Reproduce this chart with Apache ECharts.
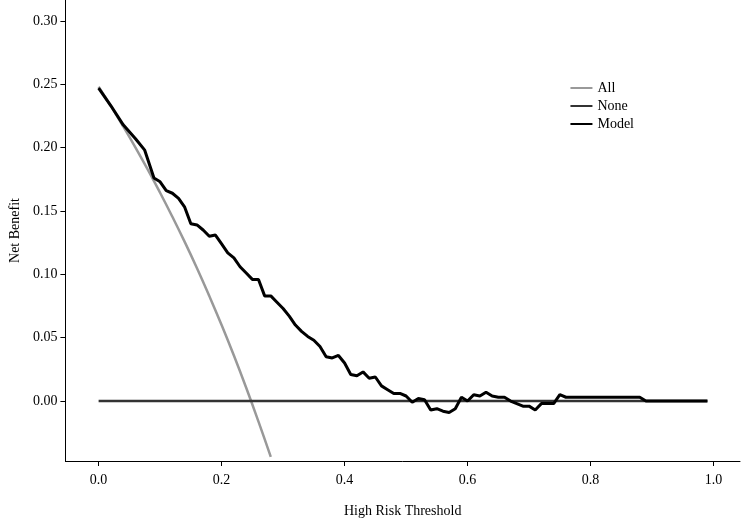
<!DOCTYPE html><html><head><meta charset="utf-8"><script src="https://cdn.jsdelivr.net/npm/echarts@6/dist/echarts.min.js"></script></head><body style="margin:0"><div id="c" style="width:744px;height:523px"></div><script>
const thresholdsAll=[0,0.02,0.04,0.06,0.08,0.10,0.12,0.14,0.16,0.18,0.20,0.22,0.24,0.26,0.28];
const allValues=[0.248,0.2327,0.2167,0.200,0.1826,0.1644,0.1454,0.1256,0.1048,0.0829,0.060,0.0359,0.0105,-0.0162,-0.044];
const thresholdsModel=[0,0.02,0.04,0.06,0.075,0.09,0.10,0.11,0.12,0.13,0.14,0.15,0.16,0.17,0.18,0.19,0.20,0.21,0.22,0.23,0.24,0.25,0.26,0.27,0.28,0.29,0.30,0.31,0.32,0.33,0.34,0.35,0.36,0.37,0.38,0.39,0.40,0.41,0.42,0.43,0.44,0.45,0.46,0.47,0.48,0.49,0.50,0.51,0.52,0.53,0.54,0.55,0.56,0.57,0.58,0.59,0.60,0.61,0.62,0.63,0.64,0.65,0.66,0.67,0.68,0.69,0.70,0.71,0.72,0.73,0.74,0.75,0.76,0.77,0.80,0.85,0.88,0.89,0.95,0.99];
const modelValues=[0.247,0.233,0.218,0.207,0.198,0.176,0.173,0.166,0.164,0.160,0.153,0.140,0.139,0.135,0.130,0.131,0.124,0.117,0.113,0.106,0.101,0.096,0.096,0.083,0.083,0.078,0.073,0.067,0.060,0.055,0.051,0.048,0.043,0.035,0.034,0.036,0.030,0.021,0.020,0.023,0.018,0.019,0.012,0.009,0.006,0.006,0.004,-0.001,0.002,0.001,-0.007,-0.006,-0.008,-0.009,-0.006,0.003,0.0,0.005,0.004,0.007,0.004,0.003,0.003,0.0,-0.002,-0.004,-0.004,-0.007,-0.002,-0.002,-0.002,0.005,0.003,0.003,0.003,0.003,0.003,0.0,0.0,0.0];
const thresholdsNone=[0,0.99];
const noneValues=[0,0];
const xTicks=[0,0.2,0.4,0.6,0.8,1.0];
const yTicks=[0,0.05,0.10,0.15,0.20,0.25,0.30];
const font='Liberation Serif';
const z=(a,b)=>a.map((v,i)=>[v,b[i]]);
const ch=echarts.init(document.getElementById('c'));
ch.setOption({animation:false,textStyle:{fontFamily:font},
grid:{left:48,right:4,top:0,bottom:61},
legend:{right:105,top:76,orient:'vertical',itemWidth:22,itemHeight:2,itemGap:4,icon:'rect',textStyle:{fontFamily:font,fontSize:14,color:'#000'},data:['All','None','Model']},
xAxis:{type:'value',min:-0.054,max:1.043,name:'High Risk Threshold',nameLocation:'middle',nameGap:43,nameTextStyle:{fontSize:14,color:'#000',fontFamily:font},
axisLine:{onZero:false,lineStyle:{color:'#000'}},splitLine:{show:false},
axisTick:{customValues:xTicks,lineStyle:{color:'#000'}},axisLabel:{customValues:xTicks,color:'#000',fontSize:14,margin:12,formatter:v=>v.toFixed(1)}},
yAxis:{type:'value',min:-0.0473,max:0.3165,name:'Net Benefit',nameLocation:'middle',nameGap:41,nameTextStyle:{fontSize:14,color:'#000',fontFamily:font},
axisLine:{show:true,onZero:false,lineStyle:{color:'#000'}},splitLine:{show:false},
axisTick:{show:true,customValues:yTicks,lineStyle:{color:'#000'}},axisLabel:{customValues:yTicks,color:'#000',fontSize:14,margin:8,formatter:v=>v.toFixed(2)}},
series:[
{name:'All',type:'line',data:z(thresholdsAll,allValues),smooth:true,showSymbol:false,lineStyle:{color:'#999',width:2.5},itemStyle:{color:'#999'}},
{name:'None',type:'line',data:z(thresholdsNone,noneValues),showSymbol:false,lineStyle:{color:'#333',width:2.5},itemStyle:{color:'#333'}},
{name:'Model',type:'line',data:z(thresholdsModel,modelValues),showSymbol:false,lineStyle:{color:'#000',width:3},itemStyle:{color:'#000'}}
]});
</script></body></html>
